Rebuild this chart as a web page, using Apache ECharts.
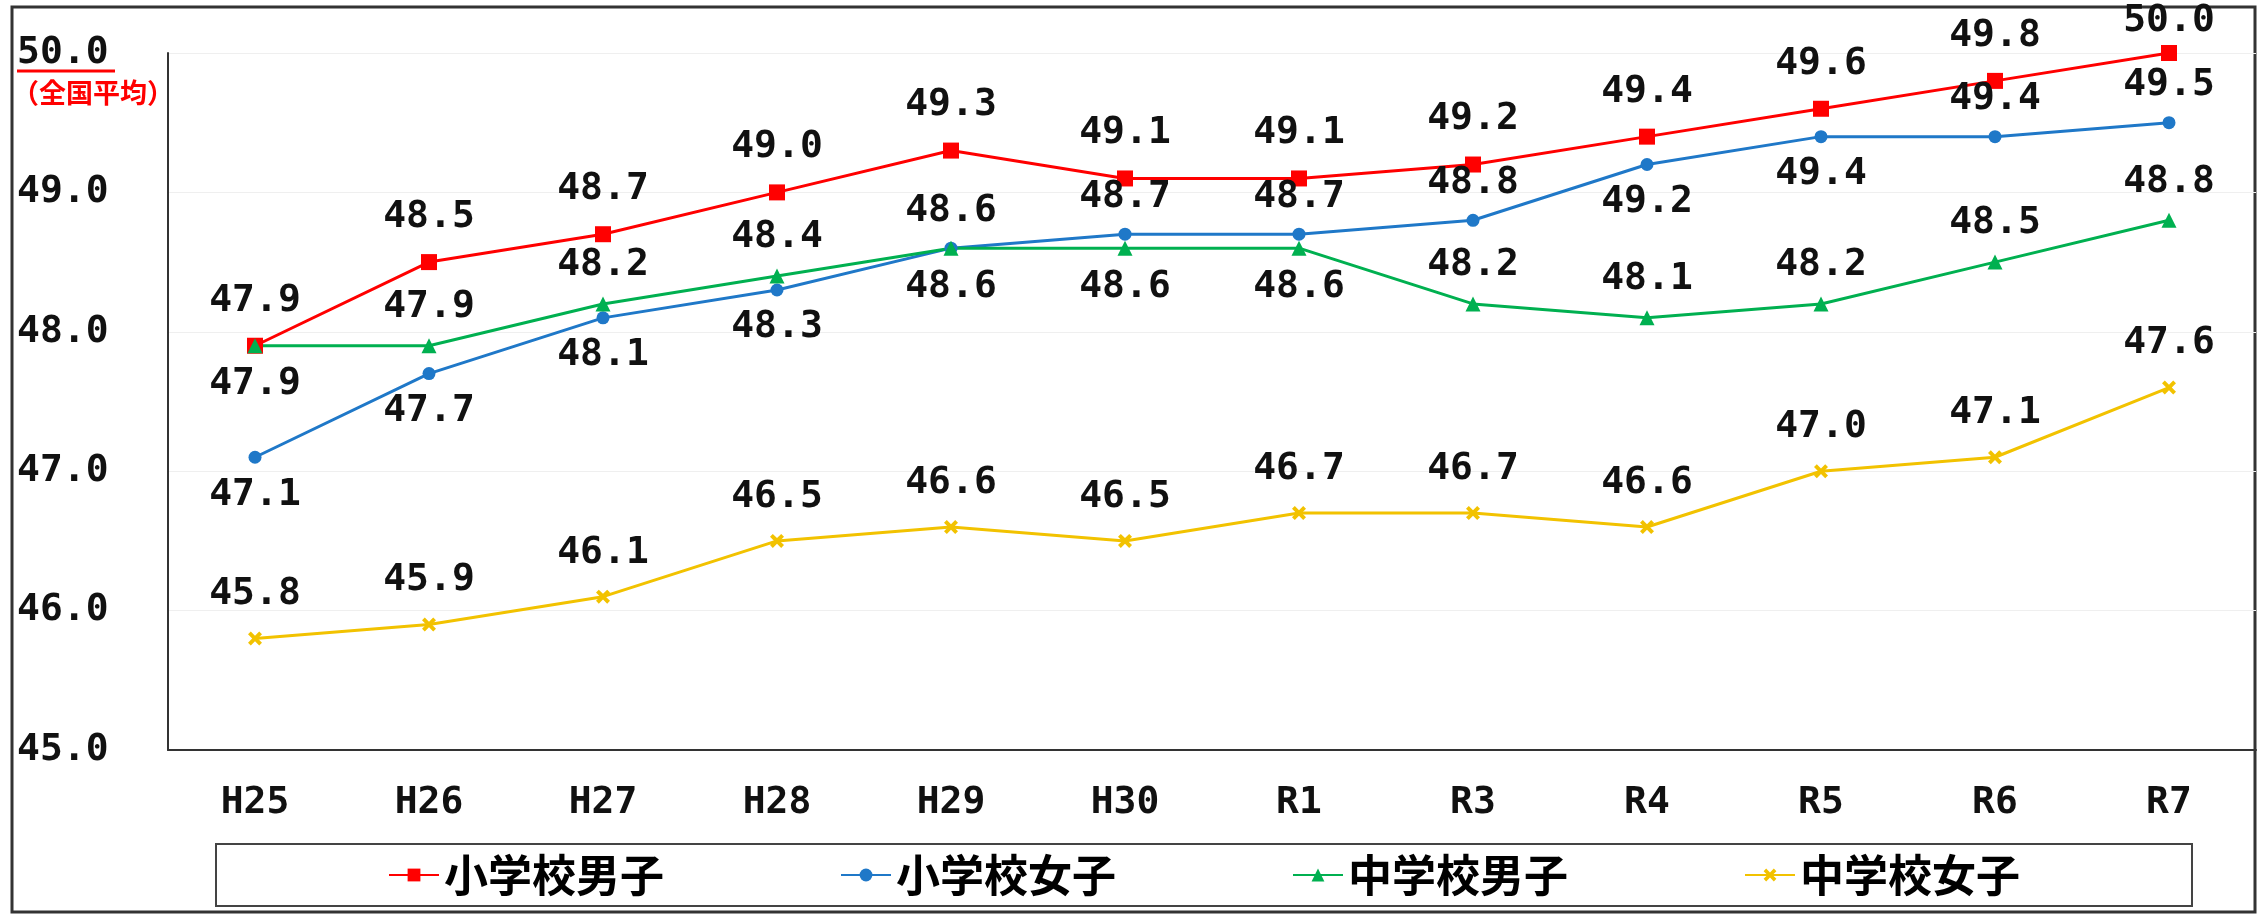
<!DOCTYPE html>
<html>
<head>
<meta charset="utf-8">
<script src="https://cdn.jsdelivr.net/npm/echarts@6/dist/echarts.min.js"></script>
<style>
  html, body { margin: 0; padding: 0; background: #fff; }
  #chart { width: 2262px; height: 914px; }
</style>
</head>
<body>
<div id="chart"></div>
<script>
// 年度
const years = ['H25', 'H26', 'H27', 'H28', 'H29', 'H30', 'R1', 'R3', 'R4', 'R5', 'R6', 'R7']
// 各区分の値
const esBoys = [47.9, 48.5, 48.7, 49.0, 49.3, 49.1, 49.1, 49.2, 49.4, 49.6, 49.8, 50.0]
const esGirls = [47.1, 47.7, 48.1, 48.3, 48.6, 48.7, 48.7, 48.8, 49.2, 49.4, 49.4, 49.5]
const jhsBoys = [47.9, 47.9, 48.2, 48.4, 48.6, 48.6, 48.6, 48.2, 48.1, 48.2, 48.5, 48.8]
const jhsGirls = [45.8, 45.9, 46.1, 46.5, 46.6, 46.5, 46.7, 46.7, 46.6, 47.0, 47.1, 47.6]
const seriesNames = ['小学校男子', '小学校女子', '中学校男子', '中学校女子']
const yMin = 45
const yMax = 50

// ラベルの上下（重なり回避）
const esGirlsLabelPos = ['bottom', 'bottom', 'bottom', 'bottom', 'top', 'top', 'top', 'top', 'bottom', 'bottom', 'top', 'top']
const jhsBoysLabelPos = ['bottom', 'top', 'top', 'top', 'bottom', 'bottom', 'bottom', 'top', 'top', 'top', 'top', 'top']

const numFont = 'DejaVu Sans Mono'
const jpFont = 'Noto Sans CJK JP'
const xMark = 'path://M0,2 L2,0 L5,3 L8,0 L10,2 L7,5 L10,8 L8,10 L5,7 L2,10 L0,8 L3,5 Z'

function makeSeries(name, values, color, symbol, symbolSize, positions, distance) {
  return {
    name: name,
    type: 'line',
    symbol: symbol,
    symbolSize: symbolSize,
    lineStyle: { color: color, width: 3 },
    itemStyle: { color: color },
    label: {
      show: true,
      distance: distance,
      fontFamily: numFont,
      fontWeight: 'bold',
      fontSize: 38,
      color: '#111',
      formatter: p => p.value.toFixed(1)
    },
    data: values.map((v, i) => {
      const item = { value: v, label: { position: positions ? positions[i] : 'top' } }
      // 上端の50.0は枠に収める
      if (v >= yMax) item.label.distance = 5
      return item
    })
  }
}

const chart = echarts.init(document.getElementById('chart'))

const option = {
  animation: false,
  backgroundColor: '#fff',
  grid: { left: 168, right: 6, top: 53, bottom: 164 },
  legend: {
    data: seriesNames,
    left: 216,
    top: 844,
    itemWidth: 50,
    itemHeight: 16,
    itemGap: 176,
    padding: [9, 172],
    borderColor: '#444',
    borderWidth: 2,
    textStyle: { fontFamily: jpFont, fontWeight: 'bold', fontSize: 44, color: '#000' }
  },
  xAxis: {
    type: 'category',
    data: years,
    boundaryGap: true,
    axisLine: { lineStyle: { color: '#333', width: 2 } },
    axisTick: { show: false },
    axisLabel: { fontFamily: numFont, fontWeight: 'bold', fontSize: 38, color: '#111', margin: 34 }
  },
  yAxis: {
    type: 'value',
    min: yMin,
    max: yMax,
    interval: 1,
    axisLine: { show: true, lineStyle: { color: '#333', width: 2 } },
    axisTick: { show: false },
    splitLine: { lineStyle: { color: '#efefef', width: 1 } },
    axisLabel: {
      align: 'left',
      margin: 151,
      fontFamily: numFont,
      fontWeight: 'bold',
      fontSize: 38,
      color: '#111',
      formatter: v => v.toFixed(1)
    }
  },
  graphic: [
    {
      type: 'rect',
      shape: { x: 12, y: 7, width: 2243, height: 905 },
      style: { fill: 'none', stroke: '#333', lineWidth: 3 },
      z: 0
    },
    {
      type: 'line',
      shape: { x1: 17, y1: 71, x2: 115, y2: 71 },
      style: { stroke: '#ff0000', lineWidth: 3 }
    },
    {
      type: 'text',
      left: 12,
      top: 79,
      style: { text: '（全国平均）', fill: '#ff0000', font: 'bold 27px "Noto Sans CJK JP"' }
    }
  ],
  series: [
    makeSeries(seriesNames[0], esBoys, '#ff0000', 'rect', 16, null, 18),
    makeSeries(seriesNames[1], esGirls, '#1f78c8', 'circle', 13, esGirlsLabelPos, 12),
    makeSeries(seriesNames[2], jhsBoys, '#00b050', 'triangle', 15, jhsBoysLabelPos, 12),
    makeSeries(seriesNames[3], jhsGirls, '#f2c200', xMark, 14, null, 18)
  ]
}

chart.setOption(option)
</script>
</body>
</html>
